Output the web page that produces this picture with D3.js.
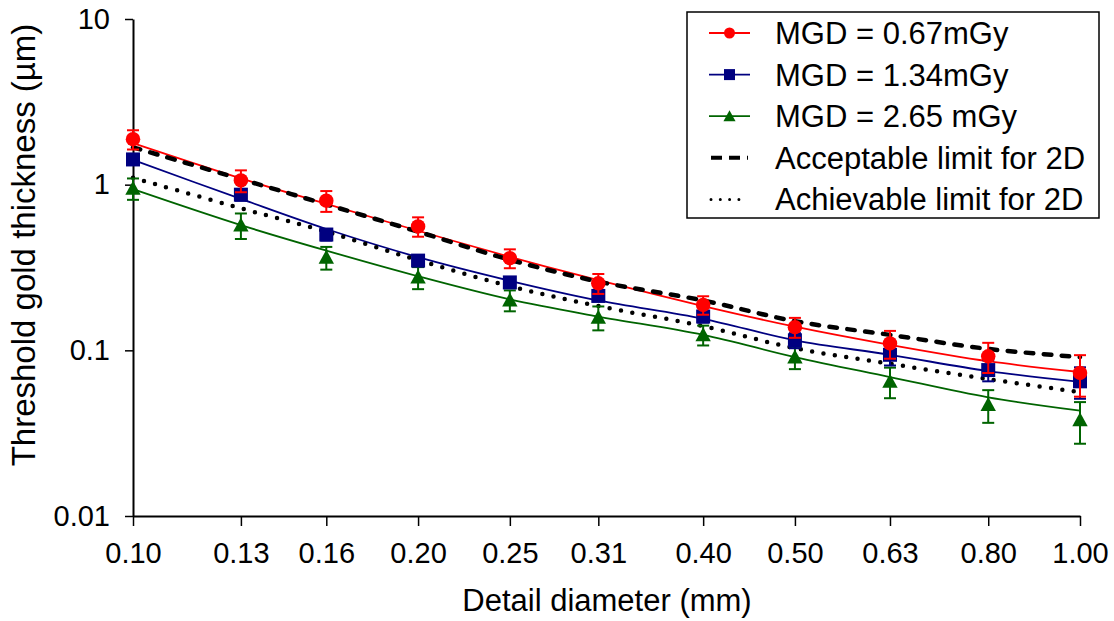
<!DOCTYPE html>
<html>
<head>
<meta charset="utf-8">
<script src="https://cdn.jsdelivr.net/npm/d3@7"></script>
<style>
  html, body { margin: 0; padding: 0; background: #fff; }
  svg { display: block; font-family: "Liberation Sans", Arial, sans-serif; }
</style>
</head>
<body>
<svg id="chart" width="1114" height="621"></svg>
<script>
// Detail diameters (mm) and their printed tick labels
const diameters = [0.10, 0.13, 0.16, 0.20, 0.25, 0.31, 0.40, 0.50, 0.63, 0.80, 1.00];
const tickLabels = ["0.10", "0.13", "0.16", "0.20", "0.25", "0.31", "0.40", "0.50", "0.63", "0.80", "1.00"];
const yTicks = [0.01, 0.1, 1, 10];

// Measured threshold gold thickness (um) with error half-widths, plus fitted curves
const mgd067     = [1.88, 1.06, 0.80, 0.56, 0.36, 0.254, 0.188, 0.138, 0.110, 0.092, 0.073];
const mgd067Err  = [0.25, 0.16, 0.115, 0.075, 0.047, 0.035, 0.024, 0.019, 0.021, 0.019, 0.0205];
const mgd067Fit  = [1.78, 1.09, 0.766, 0.527, 0.367, 0.265, 0.185, 0.139, 0.108, 0.086, 0.074];

const mgd134     = [1.42, 0.87, 0.50, 0.348, 0.257, 0.213, 0.160, 0.115, 0.094, 0.076, 0.065];
const mgd134Err  = [0.10, 0.07, 0.04, 0.025, 0.018, 0.015, 0.013, 0.012, 0.013, 0.011, 0.014];
const mgd134Fit  = [1.41, 0.82, 0.54, 0.365, 0.263, 0.200, 0.155, 0.115, 0.094, 0.075, 0.0645];

const mgd265     = [0.95, 0.57, 0.364, 0.276, 0.201, 0.158, 0.124, 0.091, 0.065, 0.047, 0.038];
const mgd265Err  = [0.14, 0.10, 0.057, 0.042, 0.029, 0.026, 0.017, 0.014, 0.0136, 0.0105, 0.0107];
const mgd265Fit  = [0.94, 0.57, 0.40, 0.28, 0.203, 0.160, 0.124, 0.091, 0.069, 0.052, 0.0432];

// EUREF limit curves
const acceptable = [1.68, 1.08, 0.76, 0.52, 0.352, 0.26, 0.20, 0.150, 0.124, 0.102, 0.091];
const achievable = [1.10, 0.72, 0.52, 0.35, 0.244, 0.185, 0.14, 0.103, 0.083, 0.067, 0.056];

const series = [
  { name: "MGD = 2.65 mGy", color: "#006400", shape: "triangle", vals: mgd265, err: mgd265Err, fit: mgd265Fit },
  { name: "MGD = 1.34mGy",  color: "#000080", shape: "square",   vals: mgd134, err: mgd134Err, fit: mgd134Fit },
  { name: "MGD = 0.67mGy",  color: "#ff0000", shape: "circle",   vals: mgd067, err: mgd067Err, fit: mgd067Fit }
];

const svg = d3.select("#chart");
const L = 133, R = 1080, T = 19, B = 516;

const x = d3.scaleLog().domain([0.1, 1]).range([L, R]);
const y = d3.scaleLog().domain([0.01, 10]).range([B, T]);

const line = d3.line()
  .x((d) => x(d[0]))
  .y((d) => y(d[1]))
  .curve(d3.curveCatmullRom.alpha(0.5));

// axes
const xAxis = svg.append("g").attr("transform", `translate(0,${B})`)
  .call(d3.axisBottom(x).tickValues(diameters).tickFormat((d, i) => tickLabels[i]).tickSize(10).tickPadding(16).tickSizeOuter(0));
const yAxis = svg.append("g").attr("transform", `translate(${L},0)`)
  .call(d3.axisLeft(y).tickValues(yTicks).tickFormat(d3.format("~g")).tickSize(8).tickPadding(15).tickSizeOuter(0));

[xAxis, yAxis].forEach((g) => {
  g.select(".domain").attr("stroke", "#000").attr("stroke-width", 2);
  g.selectAll(".tick line").attr("stroke", "#000").attr("stroke-width", 1.5);
  g.selectAll(".tick text").attr("font-size", 29).attr("fill", "#000")
    .attr("font-family", "'Liberation Sans', Arial, sans-serif");
});

svg.append("text")
  .attr("x", 607).attr("y", 611)
  .attr("text-anchor", "middle").attr("font-size", 31)
  .text("Detail diameter (mm)");

svg.append("text")
  .attr("transform", "translate(35,245) rotate(-90)")
  .attr("text-anchor", "middle").attr("font-size", 33)
  .text("Threshold gold thickness (\u00b5m)");

// fitted curves
const gLines = svg.append("g");
series.forEach((s) => {
  gLines.append("path")
    .datum(diameters.map((d, i) => [d, s.fit[i]]))
    .attr("d", line).attr("fill", "none")
    .attr("stroke", s.color).attr("stroke-width", 1.8);
});

// limit curves
gLines.append("path")
  .datum(diameters.map((d, i) => [d, acceptable[i]]))
  .attr("d", line).attr("fill", "none")
  .attr("stroke", "#000").attr("stroke-width", 4.5)
  .attr("stroke-dasharray", "7.5,10.5").attr("stroke-linecap", "round");

gLines.append("path")
  .datum(diameters.map((d, i) => [d, achievable[i]]))
  .attr("d", line).attr("fill", "none")
  .attr("stroke", "#000").attr("stroke-width", 4.5)
  .attr("stroke-dasharray", "0,11.5").attr("stroke-linecap", "round");

// markers + error bars
function marker(sel, shape, size) {
  if (shape === "circle") {
    sel.append("circle").attr("r", size / 2);
  } else if (shape === "square") {
    sel.append("rect").attr("x", -size / 2).attr("y", -size / 2).attr("width", size).attr("height", size);
  } else {
    const h = size;
    sel.append("path").attr("d", `M0,${-h * 0.55}L${h * 0.55},${h * 0.45}L${-h * 0.55},${h * 0.45}Z`);
  }
}

series.forEach((s) => {
  const g = svg.append("g").attr("fill", s.color).attr("stroke", s.color);
  const pts = g.selectAll("g.pt").data(diameters.map((d, i) => ({ d, v: s.vals[i], e: s.err[i] })))
    .join("g").attr("class", "pt");

  pts.append("line")
    .attr("x1", (p) => x(p.d)).attr("x2", (p) => x(p.d))
    .attr("y1", (p) => y(p.v + p.e)).attr("y2", (p) => y(Math.max(p.v - p.e, 0.001)))
    .attr("stroke-width", 2);
  pts.append("line")
    .attr("x1", (p) => x(p.d) - 6).attr("x2", (p) => x(p.d) + 6)
    .attr("y1", (p) => y(p.v + p.e)).attr("y2", (p) => y(p.v + p.e))
    .attr("stroke-width", 2);
  pts.append("line")
    .attr("x1", (p) => x(p.d) - 6).attr("x2", (p) => x(p.d) + 6)
    .attr("y1", (p) => y(p.v - p.e)).attr("y2", (p) => y(p.v - p.e))
    .attr("stroke-width", 2);

  pts.append("g")
    .attr("transform", (p) => `translate(${x(p.d)},${y(p.v)})`)
    .attr("stroke", "none")
    .each(function () { marker(d3.select(this), s.shape, s.shape === "circle" ? 14.5 : 14); });
});

// legend
const legendItems = [
  { name: "MGD = 0.67mGy", color: "#ff0000", shape: "circle" },
  { name: "MGD = 1.34mGy", color: "#000080", shape: "square" },
  { name: "MGD = 2.65 mGy", color: "#006400", shape: "triangle" },
  { name: "Acceptable limit for 2D", color: "#000", dash: "dash" },
  { name: "Achievable limit for 2D", color: "#000", dash: "dot" }
];

const lg = svg.append("g");
lg.append("rect").attr("x", 687).attr("y", 12).attr("width", 412).attr("height", 206)
  .attr("fill", "#fff").attr("stroke", "#000").attr("stroke-width", 1.5);

legendItems.forEach((it, i) => {
  const cy = 33 + i * 41.6;
  const row = lg.append("g");
  if (it.dash === "dash") {
    row.append("line").attr("x1", 711).attr("x2", 748).attr("y1", cy).attr("y2", cy)
      .attr("stroke", "#000").attr("stroke-width", 4)
      .attr("stroke-dasharray", "11,7");
  } else if (it.dash === "dot") {
    row.append("line").attr("x1", 711).attr("x2", 748).attr("y1", cy).attr("y2", cy)
      .attr("stroke", "#000").attr("stroke-width", 3)
      .attr("stroke-dasharray", "0,9.3").attr("stroke-linecap", "round");
  } else {
    row.append("line").attr("x1", 709).attr("x2", 750).attr("y1", cy).attr("y2", cy)
      .attr("stroke", it.color).attr("stroke-width", 1.8);
    const m = row.append("g").attr("transform", `translate(729.5,${cy})`).attr("fill", it.color);
    marker(m, it.shape, 11);
  }
  row.append("text").attr("x", 775).attr("y", cy + 11)
    .attr("font-size", 31).attr("fill", "#000").text(it.name);
});
</script>
</body>
</html>
